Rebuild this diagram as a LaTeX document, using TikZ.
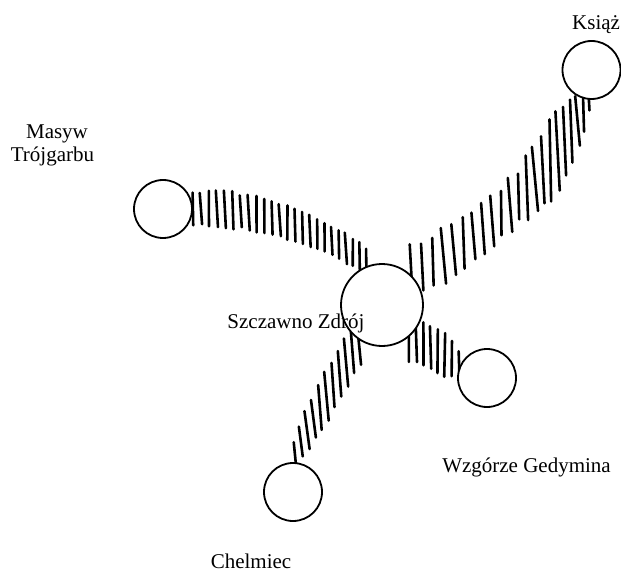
\documentclass[tikz,border=0pt]{standalone}
\usepackage{fontspec}
\setmainfont{Liberation Serif}
\usetikzlibrary{decorations.markings}
\pgfdeclarelayer{bg}
\pgfsetlayers{bg,main}
\tikzset{
  peak/.style={circle, draw, line width=1.8pt, fill=white, inner sep=0pt, minimum size=58pt},
  bigpeak/.style={peak, minimum size=82pt},
  place/.style={font=\fontsize{21}{25}\selectfont, inner sep=0pt, anchor=base},
  hatchline/.style={line width=2.6pt, line cap=round},
  % #1 stroke length as a function of \hbt (0..1 along the ridge), #2 lean, #3 step
  hatchband/.style n args={3}{%
    decoration={markings, mark=between positions 0 and 1 step #3 with {%
      \pgfmathsetmacro\hbt{\pgfkeysvalueof{/pgf/decoration/mark info/distance from start}/\pgfdecoratedpathlength}%
      \pgfmathsetmacro\hbl{(#1)*(0.88+0.24*rnd)/2}%
      \pgfmathsetmacro\hba{#2-90+5*(rnd-0.5)}%
      \pgfmathsetmacro\hbb{\hba+180}%
      \pgftransformresetnontranslations
      \draw[hatchline] (\hba:\hbl) -- (\hbb:\hbl);
    }}, postaction={decorate}}
}
\begin{document}
\begin{tikzpicture}[x=1pt, y=1pt]
\pgfmathsetseed{42}
\useasboundingbox (0,0) rectangle (621,-572);
% peaks
\node[peak] (ksiaz) at (591.5,-70) {};
\node[peak] (masyw) at (163,-209) {};
\node[bigpeak] (sz) at (382,-305) {};
\node[peak] (wz) at (487,-378) {};
\node[peak] (chel) at (293,-492) {};
% ridges
\begin{pgfonlayer}{bg}
\path[hatchband={35-8*\hbt*\hbt*\hbt}{2}{8pt}]
  (masyw.0) .. controls (250,-205) and (320,-228) .. (sz.105);
\path[hatchband={50+24*max(0,1-(\hbt-0.27)*(\hbt-0.27)/0.04)-30*max(0,1-\hbt/0.06)}{3}{12pt}]
  (ksiaz.265) .. controls (560,-160) and (490,-240) .. (sz.50);
\path[hatchband={48-30*\hbt*\hbt*\hbt*\hbt}{0}{8pt}]
  (sz.-50) .. controls (428,-345) and (445,-356) .. (wz.150);
\path[hatchband={45-37*\hbt*\hbt*\hbt*\hbt*\hbt*\hbt}{6}{13pt}]
  (sz.236) .. controls (343,-370) and (305,-430) .. (chel.95);
\end{pgfonlayer}
% names
\node[place, anchor=base west] (tksiaz) at (572,-30) {Książ};
\node[place] (tmasyw1) at (57,-139) {Masyw};
\node[place] (tmasyw2) at (52.5,-161.5) {Trójgarbu};
\node[place] (tsz) at (296,-328) {Szczawno Zdrój};
\node[place] (twz) at (526.5,-472) {Wzgórze Gedymina};
\node[place] (tchel) at (251,-568) {Chelmiec};
\end{tikzpicture}
\end{document}
